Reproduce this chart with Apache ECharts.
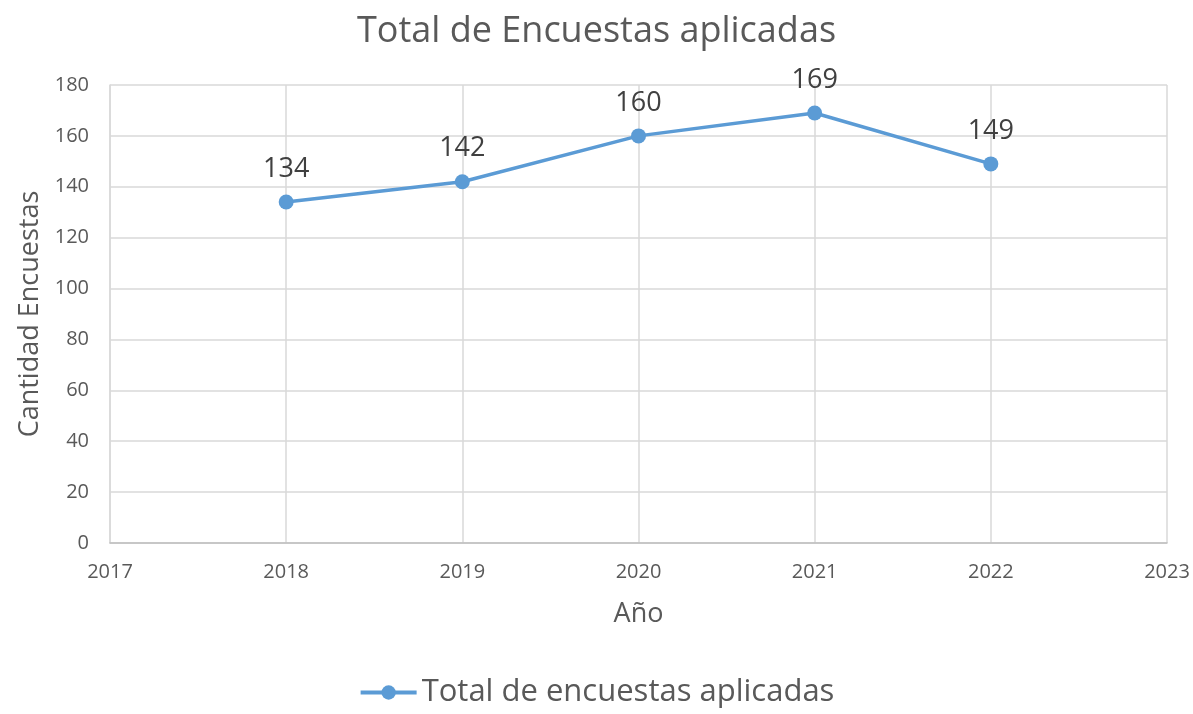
<!DOCTYPE html>
<html><head><meta charset="utf-8">
<script src="https://cdn.jsdelivr.net/npm/echarts@6/dist/echarts.min.js"></script>
<style>html,body{margin:0;padding:0;background:#fff}#c{width:1193px;height:714px}</style>
</head><body><div id="c"></div>
<script>
const years = [2018, 2019, 2020, 2021, 2022];
const totals = [134, 142, 160, 169, 149];
const seriesName = 'Total de encuestas aplicadas';
const titleText = 'Total de Encuestas aplicadas';
const FONT = 'Open Sans';
const chart = echarts.init(document.getElementById('c'));
chart.setOption({
  backgroundColor: '#fff',
  animation: false,
  title: {text: titleText, left: 'center', top: 9,
    textStyle: {fontFamily: FONT, fontSize: 36, fontWeight: 'normal', color: '#595959'}},
  legend: {top: 672, left: 'center', itemWidth: 56, itemHeight: 18, itemGap: 6,
    textStyle: {fontFamily: FONT, fontSize: 31, color: '#595959'},
    lineStyle: {width: 4},
    data: [{name: seriesName}]},
  grid: {left: 110, right: 26, top: 85, bottom: 171},
  xAxis: {type: 'value', min: 2017, max: 2023, interval: 1,
    name: 'Año', nameLocation: 'middle', nameGap: 58,
    nameTextStyle: {fontFamily: FONT, fontSize: 27, color: '#595959'},
    axisLine: {show: true, lineStyle: {color: '#bfbfbf', width: 1.5}},
    axisTick: {show: false},
    axisLabel: {fontFamily: FONT, fontSize: 20, color: '#595959', margin: 19,
      formatter: v => String(v)},
    splitLine: {show: true, lineStyle: {color: '#d9d9d9', width: 1.5}}},
  yAxis: {type: 'value', min: 0, max: 180, interval: 20,
    name: 'Cantidad Encuestas', nameLocation: 'middle', nameGap: 66,
    nameTextStyle: {fontFamily: FONT, fontSize: 27, color: '#595959'},
    axisLine: {show: true, lineStyle: {color: '#d9d9d9', width: 1.5}},
    axisTick: {show: false},
    axisLabel: {fontFamily: FONT, fontSize: 20, color: '#595959', margin: 21},
    splitLine: {show: true, lineStyle: {color: '#d9d9d9', width: 1.5}}},
  series: [{
    name: seriesName, type: 'line',
    data: years.map((y, i) => [y, totals[i]]),
    symbol: 'circle', symbolSize: 15,
    lineStyle: {color: '#5b9bd5', width: 3.5},
    itemStyle: {color: '#5b9bd5'},
    label: {show: true, position: 'top', distance: 12,
      fontFamily: FONT, fontSize: 27, color: '#404040',
      formatter: p => p.value[1]}
  }]
});
</script></body></html>
